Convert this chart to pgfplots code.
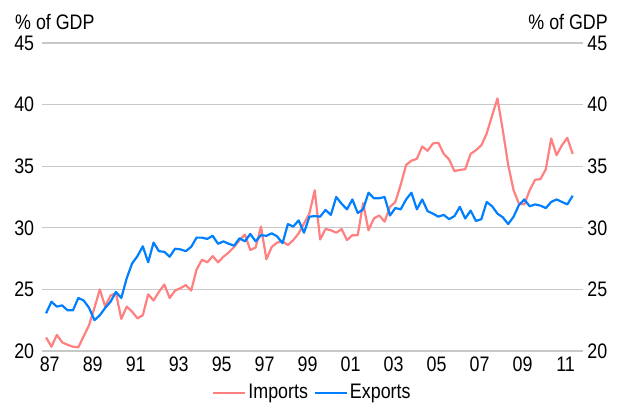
\documentclass[border=0pt]{standalone}
\usepackage{pgfplots}
\pgfplotsset{compat=1.18}
\usepackage{pgfplotstable}
\usepackage{graphicx}
\usepackage{fontspec}
\setmainfont{Liberation Sans}
\definecolor{impc}{RGB}{255,128,128}
\definecolor{expc}{RGB}{0,128,255}
\definecolor{gridc}{RGB}{200,200,200}
\newcommand{\nt}[1]{\scalebox{0.85}[1]{#1}}

\pgfplotstableread{
t imp exp
1987.00 21.1 23.06
1987.25 20.35 24.0
1987.50 21.3 23.6
1987.75 20.7 23.7
1988.00 20.5 23.3
1988.25 20.35 23.3
1988.50 20.3 24.3
1988.75 21.2 24.1
1989.00 22.1 23.5
1989.25 23.5 22.5
1989.50 25.0 22.9
1989.75 23.6 23.5
1990.00 24.5 24.0
1990.25 24.7 24.8
1990.50 22.6 24.3
1990.75 23.6 25.9
1991.00 23.2 27.1
1991.25 22.65 27.7
1991.50 22.9 28.5
1991.75 24.6 27.2
1992.00 24.1 28.8
1992.25 24.8 28.1
1992.50 25.4 28.05
1992.75 24.3 27.65
1993.00 24.9 28.3
1993.25 25.1 28.25
1993.50 25.35 28.1
1993.75 24.9 28.45
1994.00 26.6 29.2
1994.25 27.4 29.2
1994.50 27.2 29.1
1994.75 27.7 29.35
1995.00 27.2 28.7
1995.25 27.65 28.9
1995.50 28.0 28.7
1995.75 28.45 28.55
1996.00 29.0 29.15
1996.25 29.45 28.9
1996.50 28.2 29.5
1996.75 28.4 28.9
1997.00 30.1 29.4
1997.25 27.45 29.35
1997.50 28.45 29.55
1997.75 28.8 29.3
1998.00 28.9 28.75
1998.25 28.6 30.3
1998.50 29.0 30.1
1998.75 29.55 30.6
1999.00 30.35 29.6
1999.25 31.15 30.9
1999.50 33.05 30.95
1999.75 29.05 30.9
2000.00 29.9 31.45
2000.25 29.8 31.05
2000.50 29.6 32.5
2000.75 29.9 31.95
2001.00 29.0 31.5
2001.25 29.4 32.3
2001.50 29.4 31.2
2001.75 32.0 31.5
2002.00 29.8 32.85
2002.25 30.75 32.4
2002.50 31.0 32.4
2002.75 30.5 32.5
2003.00 31.7 31.0
2003.25 32.1 31.6
2003.50 33.5 31.5
2003.75 35.1 32.3
2004.00 35.45 32.85
2004.25 35.6 31.5
2004.50 36.6 32.3
2004.75 36.25 31.35
2005.00 36.85 31.15
2005.25 36.9 30.9
2005.50 36.0 31.05
2005.75 35.55 30.7
2006.00 34.6 30.95
2006.25 34.7 31.7
2006.50 34.75 30.75
2006.75 36.0 31.4
2007.00 36.3 30.55
2007.25 36.7 30.7
2007.50 37.65 32.1
2007.75 39.1 31.75
2008.00 40.5 31.15
2008.25 37.9 30.85
2008.50 35.1 30.3
2008.75 33.05 30.9
2009.00 31.95 31.85
2009.25 31.9 32.3
2009.50 33.05 31.75
2009.75 33.9 31.9
2010.00 33.95 31.8
2010.25 34.75 31.6
2010.50 37.25 32.1
2010.75 35.9 32.3
2011.00 36.7 32.1
2011.25 37.3 31.9
2011.50 36.0 32.6
}\tradedata

\begin{document}
\begin{tikzpicture}
\fontsize{21}{24}\selectfont
\path[use as bounding box] (0pt,0pt) rectangle (625pt,406pt);
\begin{axis}[
  at={(42pt,55pt)}, anchor=south west,
  scale only axis, width=541pt, height=308pt,
  xmin=1986.81, xmax=2011.98, ymin=20, ymax=45,
  ytick={20,25,30,35,40,45},
  xtick={1987.17,1989.17,1991.17,1993.17,1995.17,1997.17,1999.17,2001.17,2003.17,2005.17,2007.17,2009.17,2011.17},
  xticklabels={87,89,91,93,95,97,99,01,03,05,07,09,11},
  ymajorgrids, grid style={gridc, line width=1.3pt},
  axis line style={draw=none}, tick style={draw=none},
  ticklabel style={font=\fontsize{21}{24}\selectfont, xscale=0.85},
  /pgf/number format/assume math mode=true,
  yticklabel style={anchor=east, inner sep=0pt, xshift=-9pt},
  xticklabel style={anchor=north, inner sep=0pt, yshift=-6pt},
  legend columns=2,
  legend style={at={(0.5,-0.136)}, anchor=center, draw=none, fill=none,
    font=\fontsize{21}{24}\selectfont,
    /tikz/every even column/.append style={column sep=4pt}},
  legend image code/.code={\draw[#1, line width=2pt] (0pt,0pt) -- (32pt,0pt);},
]
\addplot[impc, line width=2.2pt, line join=round] table[x=t, y=imp] {\tradedata};
\addlegendentry{\nt{Imports}}
\addplot[expc, line width=2.2pt, line join=round] table[x=t, y=exp] {\tradedata};
\addlegendentry{\nt{Exports}}
\end{axis}
\begin{axis}[
  at={(42pt,55pt)}, anchor=south west,
  scale only axis, width=541pt, height=308pt,
  xmin=1986.81, xmax=2011.98, ymin=20, ymax=45,
  ytick={20,25,30,35,40,45},
  yticklabel pos=right, xtick=\empty,
  axis line style={draw=none}, tick style={draw=none},
  ticklabel style={font=\fontsize{21}{24}\selectfont, xscale=0.85},
  /pgf/number format/assume math mode=true,
  yticklabel style={anchor=west, inner sep=0pt, xshift=5pt},
]
\addplot[draw=none] coordinates {(1990,20)};
\end{axis}
\node[anchor=base west, inner sep=0pt] at (15pt,376pt) {\nt{\% of GDP}};
\node[anchor=base east, inner sep=0pt] at (608pt,376pt) {\nt{\% of GDP}};
\end{tikzpicture}
\end{document}
